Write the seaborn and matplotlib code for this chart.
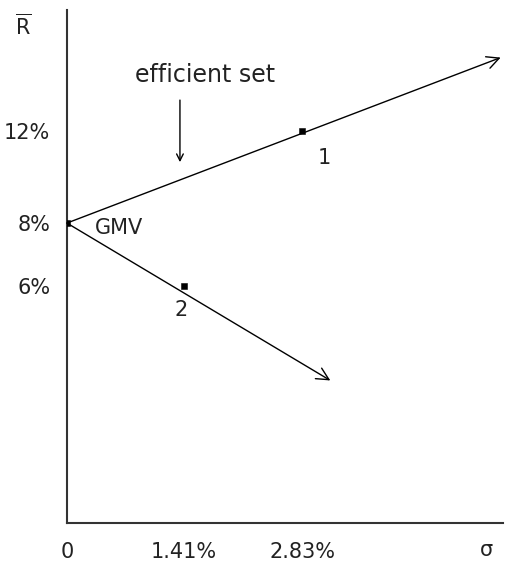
import matplotlib
matplotlib.use("Agg")
import numpy as np
import pandas as pd
import seaborn as sns
import matplotlib.pyplot as plt

# portfolios (sigma %, mean return %)
labels = ['GMV', '1', '2']
sigma = [0.0, 2.83, 1.41]
ret = [8.0, 12.0, 6.0]

# where the two frontier arrows end
upper_end = (5.22, 15.2)
lower_end = (3.17, 3.0)

xticks = [0, 1.41, 2.83]
xtick_labels = ['0', '1.41%', '2.83%']
yticks = [6, 8, 12]
ytick_labels = ['6%', '8%', '12%']


# the sketch is not drawn to one scale: below 8% it is stretched
def fwd(y):
    y = np.asarray(y, dtype=float)
    return np.where(y >= 8, (y - 8) * 23.0, (y - 8) * 31.5)


def inv(t):
    t = np.asarray(t, dtype=float)
    return np.where(t >= 0, t / 23.0 + 8, t / 31.5 + 8)


sns.set_style('white')
plt.rcParams['font.family'] = ['DejaVu Sans']

fig = plt.figure(figsize=(5.15, 5.67), dpi=100)
ax = fig.add_axes([0.130, 0.078, 0.847, 0.904])
ax.set_yscale('function', functions=(fwd, inv))

df = pd.DataFrame({'sigma': sigma, 'ret': ret, 'label': labels})
sns.scatterplot(data=df, x='sigma', y='ret', marker='s', s=22, color='black',
                edgecolor='black', ax=ax, zorder=3)

gmv = (sigma[0], ret[0])
for end in [upper_end, lower_end]:
    ax.annotate('', xy=end, xytext=gmv,
                arrowprops=dict(arrowstyle='->', color='black', lw=1.0,
                                mutation_scale=22, shrinkA=0, shrinkB=0))

ax.set_xlim(0, 5.25)
ax.set_ylim(-1.52, 17.26)
ax.set_xticks(xticks)
ax.set_xticklabels(xtick_labels)
ax.set_yticks(yticks)
ax.set_yticklabels(ytick_labels)
ax.minorticks_off()
ax.tick_params(length=0, labelsize=15, labelcolor='#222222')
ax.tick_params(axis='x', pad=14)
ax.tick_params(axis='y', pad=12)
ax.set_xlabel('')
ax.set_ylabel('')

for side in ['top', 'right']:
    ax.spines[side].set_visible(False)
for side in ['left', 'bottom']:
    ax.spines[side].set_color('#333333')
    ax.spines[side].set_linewidth(1.5)

# point labels
ax.text(0.34, 7.84, 'GMV', fontsize=15, color='#222222', va='center')
ax.text(3.02, 10.83, '1', fontsize=15, color='#222222', va='center')
ax.text(1.30, 5.24, '2', fontsize=15, color='#222222', va='center')

# efficient set annotation
ax.text(1.66, 14.43, 'efficient set', fontsize=17, color='#222222', ha='center', va='center')
ax.annotate('', xy=(1.36, 10.65), xytext=(1.36, 13.35),
            arrowprops=dict(arrowstyle='->', color='black', lw=1.0,
                            mutation_scale=12, shrinkA=0, shrinkB=0))

# axis names
fig.text(23 / 515, 1 - 26 / 567, r'$\overline{\mathrm{R}}$', fontsize=15,
         color='#222222', ha='center', va='center')
fig.text(486 / 515, 1 - 550 / 567, 'σ', fontsize=15,
         color='#222222', ha='center', va='center')

fig.savefig('out.png', dpi=100)
